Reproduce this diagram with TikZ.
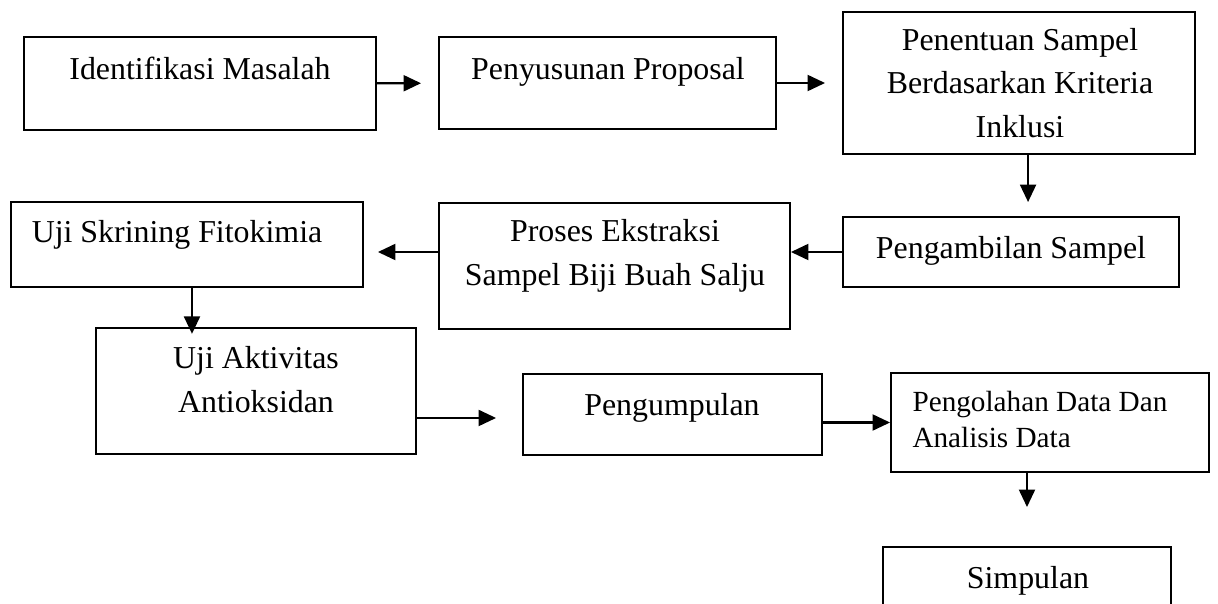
\documentclass[tikz,border=0pt]{standalone}
\usepackage{fontspec}
\setmainfont{Liberation Serif}
\usetikzlibrary{arrows.meta,fit}

\begin{document}
\begin{tikzpicture}
    [x=0.01323cm,y=-0.01323cm,
     box/.style={draw,rectangle,line width=0.7pt,inner sep=0pt},
     txt/.style={inner sep=0pt,anchor=base,align=center,font=\fontsize{12}{16.2}\selectfont},
     arr/.style={line width=0.9pt,-{Triangle[length=6.6pt,width=6pt]}}]
    \useasboundingbox (0,0) rectangle (1218,604);

    \node[box,fit={(24,37) (376,130)}] (b1) {};
    \node[box,fit={(439,37) (776,129)}] (b2) {};
    \node[box,fit={(843,12) (1195,154)}] (b3) {};
    \node[box,fit={(843,217) (1179,287)}] (b4) {};
    \node[box,fit={(439,203) (790,329)}] (b5) {};
    \node[box,fit={(11,202) (363,287)}] (b6) {};
    \node[box,fit={(96,328) (416,454)}] (b7) {};
    \node[box,fit={(523,374) (822,455)}] (b8) {};
    \node[box,fit={(891,373) (1209,472)}] (b9) {};
    \node[box,fit={(883,547) (1171,630)}] (b10) {};

    % multi-line texts sit on the baseline of their last line
    \node[txt] (t1) at (200,79) {Identifikasi Masalah};
    \node[txt] (t2) at (608,79) {Penyusunan Proposal};
    \node[txt] (t3) at (1020,137) {Penentuan Sampel\\Berdasarkan Kriteria\\Inklusi};
    \node[txt] (t4) at (1011,258) {Pengambilan Sampel};
    \node[txt] (t5) at (615,285) {Proses Ekstraksi\\Sampel Biji Buah Salju};
    \node[txt] (t6) at (177,242) {Uji Skrining Fitokimia};
    \node[txt] (t7) at (256,412) {Uji Aktivitas\\Antioksidan};
    \node[txt] (t8) at (672,415) {Pengumpulan};
    \node[txt,anchor=base west,align=left,font=\fontsize{11}{13.2}\selectfont] (t9) at (912,447) {Pengolahan Data Dan\\Analisis Data};
    \node[txt] (t10) at (1028,588) {Simpulan};

    \draw[arr,shorten >=0.225cm] (b1) -- (b2);
    \draw[arr,shorten >=0.225cm] (b2) -- (b3);
    \draw[arr,shorten >=0.185cm] ([xshift=0.12cm]b3.south) -- ([xshift=0.12cm]b3.south |- b4.north);
    \draw[arr] (b4.west) -- (b4.west -| b5.east);
    \draw[arr,shorten >=0.185cm] (b4.west -| b5.west) -- (b4.west -| b6.east);
    \draw[arr,shorten >=-0.09cm] ([xshift=0.066cm]b6.south) -- ([xshift=0.066cm]b6.south |- b7.north);
    \draw[arr,shorten >=0.344cm] ([yshift=-0.046cm]b7.east |- b8.west) -- ([yshift=-0.046cm]b8.west);
    \draw[arr] (b8.east |- b9.west) -- (b9.west);
    \draw[arr,shorten >=0.516cm] (b10.north |- b9.south) -- (b10.north);
\end{tikzpicture}
\end{document}
